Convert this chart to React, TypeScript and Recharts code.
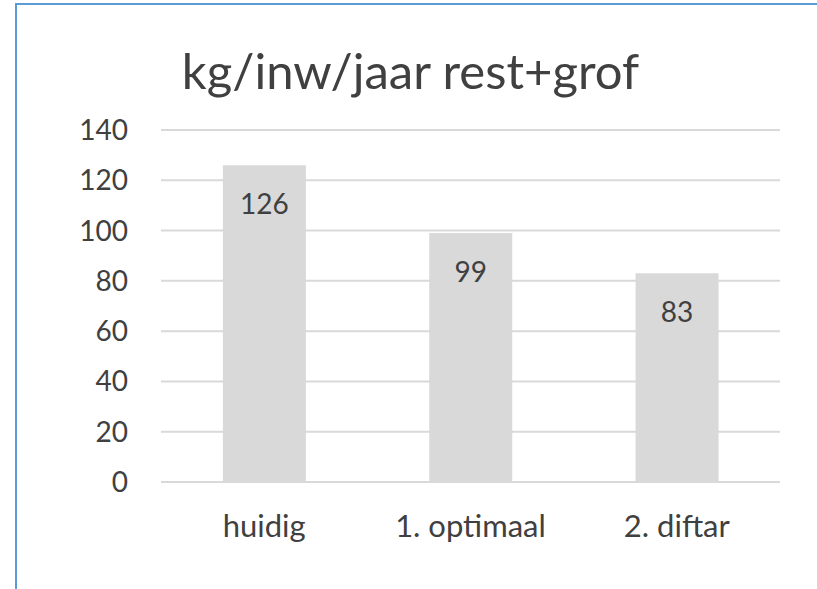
import React from 'react';
import { BarChart, Bar, XAxis, YAxis, CartesianGrid, LabelList } from 'recharts';

const categories = ['huidig', '1. optimaal', '2. diftar'];
const values = [126, 99, 83];
const yTicks = [0, 20, 40, 60, 80, 100, 120, 140];

const data = categories.map((name, i) => ({ name, value: values[i] }));

const FONT = 'Lato, "Open Sans", sans-serif';
const TEXT = '#404040';
const GREY = '#d9d9d9';

export default function App() {
  return (
    <div style={{ position: 'absolute', left: 0, top: 0, width: 817, height: 589, background: '#fff', overflow: 'hidden' }}>
      {/* rand van het kader */}
      <div style={{ position: 'absolute', left: 15, top: 3, width: 2, height: 586, background: '#5b9bd5' }} />
      <div style={{ position: 'absolute', left: 15, top: 3, width: 802, height: 2, background: '#5b9bd5' }} />
      <div
        style={{
          position: 'absolute',
          left: 0,
          width: 821,
          top: 40,
          textAlign: 'center',
          fontFamily: FONT,
          fontSize: 49,
          color: TEXT,
          lineHeight: '60px',
        }}
      >
        kg/inw/jaar rest+grof
      </div>
      <div style={{ position: 'absolute', left: 0, top: 0 }}>
        <BarChart
          width={817}
          height={589}
          data={data}
          margin={{ top: 130, right: 37, left: 0, bottom: 0 }}
          barCategoryGap="30%"
        >
          <CartesianGrid vertical={false} stroke={GREY} strokeWidth={2} />
          <XAxis
            dataKey="name"
            height={107}
            tickLine={false}
            axisLine={{ stroke: GREY, strokeWidth: 2 }}
            tickMargin={27}
            tick={{ fontSize: 31, fill: TEXT, fontFamily: FONT }}
          />
          <YAxis
            width={161}
            domain={[0, 140]}
            ticks={yTicks}
            tickLine={false}
            axisLine={false}
            tickMargin={27}
            tick={{ fontSize: 28, fill: TEXT, fontFamily: FONT }}
          />
          <Bar dataKey="value" fill={GREY} isAnimationActive={false}>
            <LabelList dataKey="value" position="insideTop" offset={29} fill={TEXT} fontSize={28} fontFamily={FONT} />
          </Bar>
        </BarChart>
      </div>
    </div>
  );
}
